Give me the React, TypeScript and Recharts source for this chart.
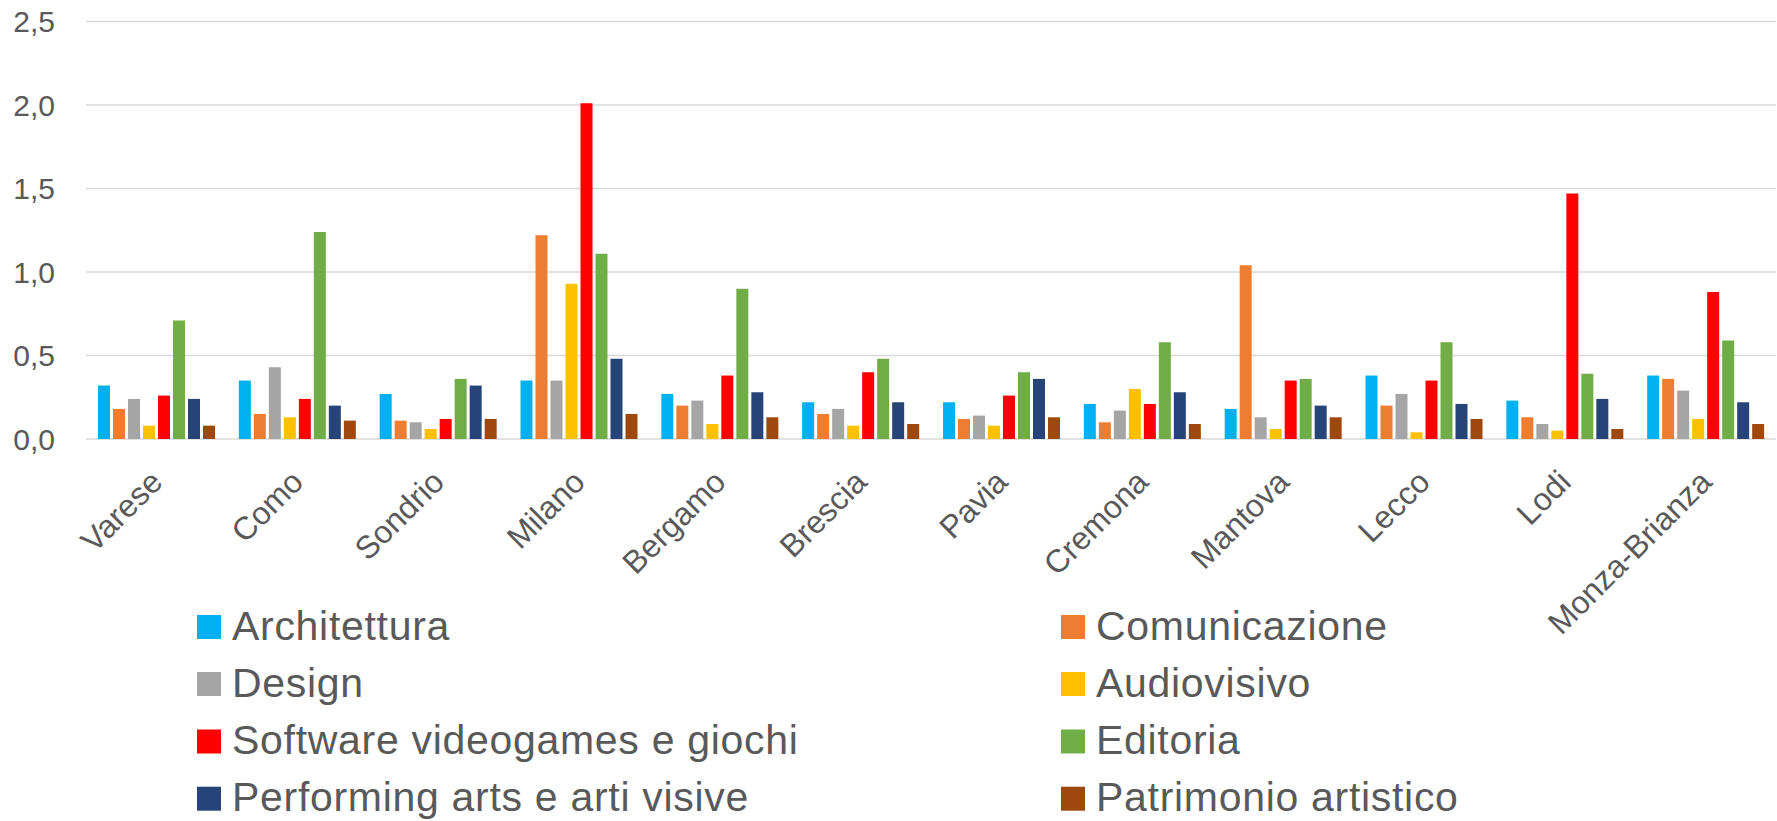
import React from "react";
import { BarChart, Bar, XAxis, YAxis, CartesianGrid } from "recharts";

const provinces = ["Varese", "Como", "Sondrio", "Milano", "Bergamo", "Brescia", "Pavia", "Cremona", "Mantova", "Lecco", "Lodi", "Monza-Brianza"];

const architettura = [0.32, 0.35, 0.27, 0.35, 0.27, 0.22, 0.22, 0.21, 0.18, 0.38, 0.23, 0.38];
const comunicazione = [0.18, 0.15, 0.11, 1.22, 0.20, 0.15, 0.12, 0.10, 1.04, 0.20, 0.13, 0.36];
const design = [0.24, 0.43, 0.10, 0.35, 0.23, 0.18, 0.14, 0.17, 0.13, 0.27, 0.09, 0.29];
const audiovisivo = [0.08, 0.13, 0.06, 0.93, 0.09, 0.08, 0.08, 0.30, 0.06, 0.04, 0.05, 0.12];
const software = [0.26, 0.24, 0.12, 2.01, 0.38, 0.40, 0.26, 0.21, 0.35, 0.35, 1.47, 0.88];
const editoria = [0.71, 1.24, 0.36, 1.11, 0.90, 0.48, 0.40, 0.58, 0.36, 0.58, 0.39, 0.59];
const performing = [0.24, 0.20, 0.32, 0.48, 0.28, 0.22, 0.36, 0.28, 0.20, 0.21, 0.24, 0.22];
const patrimonio = [0.08, 0.11, 0.12, 0.15, 0.13, 0.09, 0.13, 0.09, 0.13, 0.12, 0.06, 0.09];

const yTicks = [0, 0.5, 1, 1.5, 2, 2.5];

const seriesNames = [
  "Architettura",
  "Comunicazione",
  "Design",
  "Audiovisivo",
  "Software videogames e giochi",
  "Editoria",
  "Performing arts e arti visive",
  "Patrimonio artistico",
];
const seriesValues = [architettura, comunicazione, design, audiovisivo, software, editoria, performing, patrimonio];
const seriesColors = ["#00B0F0", "#ED7D31", "#A5A5A5", "#FFC000", "#FF0000", "#70AD47", "#264478", "#9E480E"];
const seriesKeys = ["s0", "s1", "s2", "s3", "s4", "s5", "s6", "s7"];

const data = provinces.map((p, i) => {
  const row: Record<string, string | number> = { name: p };
  seriesKeys.forEach((k, j) => {
    row[k] = seriesValues[j][i];
  });
  return row;
});

const FONT = "'Liberation Sans', Arial, sans-serif";
const TEXT = "#595959";

const XTick = (props: any) => {
  const { x, y, payload } = props;
  return (
    <g transform={`translate(${x},${y + 29})`}>
      <text
        transform="rotate(-45)"
        textAnchor="end"
        dy="0.35em"
        fill={TEXT}
        fontSize={32}
        fontFamily={FONT}
      >
        {payload.value}
      </text>
    </g>
  );
};

const Legend2 = () => {
  const colX = [197, 1061];
  const rowY = [627, 684, 741.5, 798.7];
  return (
    <svg width={1777} height={821} style={{ position: "absolute", left: 0, top: 0, pointerEvents: "none" }}>
      {seriesNames.map((n, i) => {
        const cx = colX[i % 2];
        const cy = rowY[Math.floor(i / 2)];
        return (
          <g key={n}>
            <rect x={cx} y={cy - 12} width={24} height={24} fill={seriesColors[i]} />
            <text
              x={cx + 35}
              y={cy + 12.5}
              fill={TEXT}
              fontSize={41}
              letterSpacing={0.7}
              fontFamily={FONT}
            >
              {n}
            </text>
          </g>
        );
      })}
    </svg>
  );
};

export default function App() {
  return (
    <div style={{ position: "absolute", left: 0, top: 0, width: 1777, height: 821, background: "#fff" }}>
      <BarChart
        width={1777}
        height={821}
        data={data}
        margin={{ top: 21.5, right: 1, left: 0, bottom: 0 }}
        barCategoryGap={12}
        barGap={3}
      >
        <CartesianGrid vertical={false} stroke="#D9D9D9" strokeWidth={1.5} />
        <XAxis
          dataKey="name"
          height={382}
          axisLine={false}
          tickLine={false}
          interval={0}
          tick={<XTick />}
        />
        <YAxis
          width={86}
          domain={[0, 2.5]}
          ticks={yTicks}
          axisLine={false}
          tickLine={false}
          tickMargin={25}
          tickFormatter={(v: number) => v.toFixed(1).replace(".", ",")}
          tick={{ fill: TEXT, fontSize: 30, fontFamily: FONT }}
        />
        {seriesKeys.map((k, i) => (
          <Bar key={k} dataKey={k} name={seriesNames[i]} fill={seriesColors[i]} isAnimationActive={false} />
        ))}
      </BarChart>
      <Legend2 />
    </div>
  );
}
